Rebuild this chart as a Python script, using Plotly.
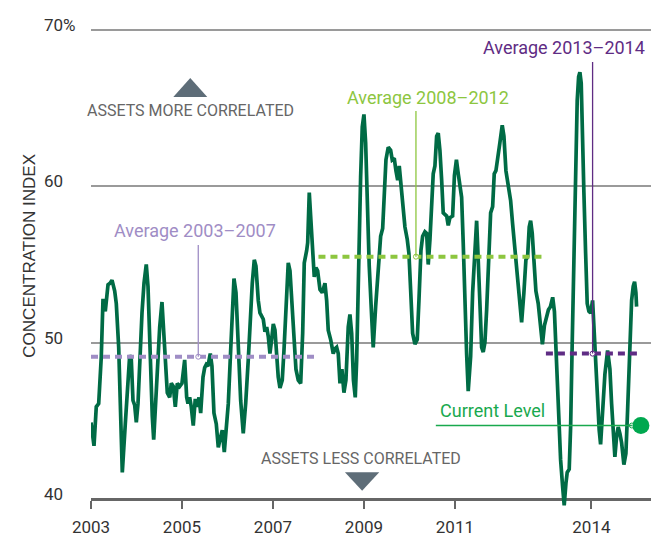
import plotly.graph_objects as go

# ---------------- data ----------------
t = [2003.000, 2003.066, 2003.116, 2003.169, 2003.226, 2003.264, 2003.314, 2003.374, 2003.418, 2003.462,
     2003.521, 2003.556, 2003.609, 2003.666, 2003.688, 2003.754, 2003.813, 2003.851, 2003.886, 2003.923,
     2003.960, 2003.996, 2004.033, 2004.070, 2004.121, 2004.165, 2004.215, 2004.253, 2004.290, 2004.347,
     2004.378, 2004.435, 2004.473, 2004.510, 2004.560, 2004.604, 2004.642, 2004.677, 2004.730, 2004.765,
     2004.809, 2004.853, 2004.897, 2004.949, 2005.000, 2005.059, 2005.103, 2005.132, 2005.169, 2005.204,
     2005.248, 2005.292, 2005.336, 2005.374, 2005.411, 2005.462, 2005.499, 2005.534, 2005.571, 2005.622,
     2005.659, 2005.703, 2005.754, 2005.798, 2005.835, 2005.886, 2005.930, 2005.967, 2006.018, 2006.070,
     2006.114, 2006.143, 2006.187, 2006.237, 2006.290, 2006.347, 2006.400, 2006.457, 2006.495, 2006.545,
     2006.589, 2006.626, 2006.677, 2006.714, 2006.752, 2006.787, 2006.824, 2006.862, 2006.897, 2006.934,
     2006.971, 2007.007, 2007.044, 2007.081, 2007.116, 2007.154, 2007.204, 2007.242, 2007.286, 2007.336,
     2007.374, 2007.411, 2007.462, 2007.505, 2007.556, 2007.609, 2007.653, 2007.688, 2007.741, 2007.763,
     2007.798, 2007.835, 2007.873, 2007.908, 2007.945, 2007.982, 2008.033, 2008.084, 2008.143, 2008.180,
     2008.215, 2008.268, 2008.325, 2008.363, 2008.400, 2008.435, 2008.473, 2008.516, 2008.560, 2008.604,
     2008.655, 2008.692, 2008.730, 2008.769, 2008.809, 2008.840, 2008.875, 2008.927, 2008.963, 2009.000,
     2009.037, 2009.073, 2009.116, 2009.169, 2009.204, 2009.257, 2009.314, 2009.367, 2009.411, 2009.446,
     2009.484, 2009.534, 2009.587, 2009.622, 2009.666, 2009.703, 2009.741, 2009.776, 2009.813, 2009.851,
     2009.901, 2009.952, 2009.989, 2010.026, 2010.070, 2010.121, 2010.171, 2010.209, 2010.253, 2010.290,
     2010.341, 2010.378, 2010.413, 2010.451, 2010.488, 2010.523, 2010.560, 2010.598, 2010.633, 2010.670,
     2010.708, 2010.743, 2010.818, 2010.853, 2010.890, 2010.949, 2010.989, 2011.033, 2011.073, 2011.110,
     2011.147, 2011.182, 2011.220, 2011.257, 2011.292, 2011.345, 2011.389, 2011.440, 2011.477, 2011.512,
     2011.549, 2011.587, 2011.622, 2011.659, 2011.697, 2011.754, 2011.785, 2011.829, 2011.864, 2011.901,
     2011.952, 2011.989, 2012.040, 2012.077, 2012.121, 2012.171, 2012.224, 2012.268, 2012.319, 2012.369,
     2012.413, 2012.466, 2012.516, 2012.560, 2012.598, 2012.633, 2012.664, 2012.699, 2012.736, 2012.780,
     2012.831, 2012.868, 2012.923, 2012.967, 2013.011, 2013.055, 2013.099, 2013.149, 2013.187, 2013.235,
     2013.270, 2013.323, 2013.367, 2013.402, 2013.440, 2013.468, 2013.512, 2013.543, 2013.578, 2013.615,
     2013.653, 2013.688, 2013.719, 2013.747, 2013.776, 2013.807, 2013.835, 2013.873, 2013.908, 2013.945,
     2013.982, 2014.026, 2014.062, 2014.099, 2014.136, 2014.171, 2014.202, 2014.246, 2014.297, 2014.356,
     2014.407, 2014.444, 2014.479, 2014.516, 2014.554, 2014.589, 2014.626, 2014.664, 2014.714, 2014.758,
     2014.796, 2014.831, 2014.884, 2014.919, 2014.949, 2014.978, 2014.993]

index = [44.9, 43.4, 45.9, 46.1, 49.1, 52.8, 52.0, 53.7, 53.8, 54.0,
         53.3, 52.5, 49.7, 44.4, 41.7, 44.8, 47.4, 49.2, 48.9, 46.3,
         46.0, 44.9, 46.1, 49.1, 51.9, 53.8, 55.0, 53.6, 49.5, 45.3,
         43.8, 46.8, 49.5, 51.0, 52.6, 50.4, 48.9, 46.8, 46.5, 47.4,
         47.2, 45.9, 47.4, 47.2, 47.4, 48.9, 46.5, 46.1, 46.5, 45.9,
         44.7, 46.4, 45.9, 46.5, 45.5, 47.8, 48.4, 48.6, 48.5, 49.3,
         48.5, 45.5, 44.8, 43.3, 43.8, 44.4, 43.0, 44.2, 46.1, 49.5,
         52.7, 54.1, 53.2, 49.5, 46.3, 44.2, 46.1, 48.9, 51.2, 53.8,
         55.3, 54.9, 52.7, 51.9, 51.7, 51.5, 50.7, 51.0, 50.4, 49.3,
         50.2, 51.2, 50.8, 49.3, 47.8, 47.1, 47.6, 49.5, 52.7, 55.1,
         54.6, 52.7, 50.0, 48.3, 47.6, 47.4, 50.6, 55.1, 55.9, 56.4,
         59.6, 58.1, 55.9, 54.2, 54.8, 54.6, 53.4, 53.2, 53.8, 52.7,
         50.8, 50.2, 49.3, 49.6, 49.7, 49.3, 47.4, 48.3, 46.8, 47.6,
         51.0, 51.8, 50.6, 47.6, 46.5, 48.9, 54.2, 60.6, 63.8, 64.6,
         62.8, 58.5, 54.9, 51.7, 49.7, 52.3, 54.9, 56.8, 57.3, 59.8,
         61.7, 62.5, 62.3, 61.7, 61.8, 61.0, 60.4, 61.3, 60.2, 58.7,
         57.4, 56.6, 55.7, 53.4, 50.6, 49.9, 50.2, 52.7, 55.9, 56.8,
         57.1, 57.0, 55.0, 56.6, 58.5, 60.8, 61.3, 63.2, 63.4, 62.3,
         60.4, 58.3, 58.1, 57.5, 58.0, 58.1, 60.7, 61.7, 60.8, 60.1,
         59.3, 56.4, 52.1, 49.3, 46.9, 49.1, 53.2, 56.4, 57.8, 55.3,
         52.1, 49.7, 49.4, 50.0, 52.1, 56.4, 58.3, 58.7, 60.8, 61.0,
         61.9, 62.8, 63.9, 63.2, 61.0, 60.0, 59.1, 57.6, 55.9, 54.4,
         53.2, 51.3, 53.2, 55.3, 55.5, 57.4, 57.8, 57.0, 55.3, 53.3,
         52.5, 51.2, 49.9, 51.1, 51.7, 52.1, 52.3, 52.9, 52.0, 48.9,
         45.7, 42.5, 40.8, 39.6, 41.0, 41.7, 41.9, 44.6, 50.0, 55.3,
         60.6, 65.5, 67.0, 67.3, 66.6, 63.8, 59.6, 55.7, 52.5, 52.0,
         51.9, 52.7, 50.6, 48.5, 46.1, 44.4, 43.5, 45.9, 48.0, 49.5,
         48.3, 46.1, 44.2, 42.7, 44.0, 44.6, 44.2, 43.6, 42.2, 42.9,
         45.7, 48.9, 52.7, 53.6, 53.9, 53.2, 52.3]

avg_labels = ["Average 2003\u20132007", "Average 2008\u20132012", "Average 2013\u20132014"]
avg_start = [2003.0, 2008.0, 2013.0]
avg_end = [2008.0, 2013.0, 2015.0]
avg_value = [49.1, 55.5, 49.3]
avg_colors = ["#9F8DC5", "#8DC63F", "#5F2C84"]

current_level = 44.7

x_tickvals = [2003, 2005, 2007, 2009, 2011, 2014]
x_ticktext = ["2003", "2005", "2007", "2009", "2011", "2014"]
y_gridvals = [50, 60, 70]
y_ticklabels = {70: "70%", 60: "60", 50: "50", 40: "40"}

# ---------------- layout geometry ----------------
Y_MIN, Y_MAX = 39.168, 70.128
X_MIN, X_MAX = 2003.0, 2015.31
axis_pos = (40 - Y_MIN) / (Y_MAX - Y_MIN)

LINE_GREEN = "#006B45"
CUR_GREEN = "#19A94E"
FONT = "Roboto"

fig = go.Figure()

# main series
fig.add_trace(go.Scatter(x=t, y=index, mode="lines",
                         line=dict(color=LINE_GREEN, width=3.7),
                         hoverinfo="skip", showlegend=False))

# average dashed lines
for s, e, v, c in zip(avg_start, avg_end, avg_value, avg_colors):
    fig.add_trace(go.Scatter(x=[s, e], y=[v, v], mode="lines",
                             line=dict(color=c, width=4, dash="7px,5px"),
                             hoverinfo="skip", showlegend=False))

# leader lines (text anchor positions, leader x positions)
label_x = [2005.286, 2010.407, 2013.396]
label_y = [57.2, 65.7, 68.9]
leader_x = [2005.358, 2010.143, 2014.026]
leader_top = [56.25, 64.82, 67.95]

for lx, ly, tx, txy, lbl, v, c in zip(leader_x, leader_top, label_x, label_y,
                                      avg_labels, avg_value, avg_colors):
    fig.add_shape(type="line", xref="x", yref="y", x0=lx, x1=lx, y0=ly, y1=v,
                  line=dict(color=c, width=1.3))
    fig.add_trace(go.Scatter(x=[lx], y=[v], mode="markers",
                             marker=dict(symbol="circle", size=5, color="white",
                                         line=dict(color=c, width=1)),
                             hoverinfo="skip", showlegend=False))
    fig.add_annotation(x=tx, y=txy, xref="x", yref="y", text=lbl, showarrow=False,
                       font=dict(family=FONT, size=18, color=c),
                       xanchor="center", yanchor="middle")

# current level
fig.add_shape(type="line", xref="x", yref="y", x0=2010.58, x1=2014.89,
              y0=current_level, y1=current_level, line=dict(color=CUR_GREEN, width=1.3))
fig.add_trace(go.Scatter(x=[2014.89], y=[current_level], mode="markers",
                         marker=dict(symbol="circle", size=5, color="white",
                                     line=dict(color=CUR_GREEN, width=1)),
                         hoverinfo="skip", showlegend=False))
fig.add_trace(go.Scatter(x=[2015.088], y=[current_level], mode="markers",
                         marker=dict(symbol="circle", size=17, color="#00A84F"),
                         cliponaxis=False, hoverinfo="skip", showlegend=False))
fig.add_annotation(x=2011.824, y=45.63, xref="x", yref="y", text="Current Level",
                   showarrow=False, font=dict(family=FONT, size=18, color=CUR_GREEN),
                   xanchor="center", yanchor="middle")

# correlation hints
TRI = "#5E6D78"
fig.add_shape(type="path", xref="x", yref="y",
              path="M 2004.809 65.715 L 2005.556 65.715 L 2005.182 66.93 Z",
              fillcolor=TRI, line=dict(width=0))
fig.add_annotation(x=2005.198, y=64.82, xref="x", yref="y", text="ASSETS MORE CORRELATED",
                   showarrow=False, font=dict(family=FONT, size=16, color="#666666"))
fig.add_shape(type="path", xref="x", yref="y",
              path="M 2008.582 41.71 L 2009.336 41.71 L 2008.96 40.53 Z",
              fillcolor=TRI, line=dict(width=0))
fig.add_annotation(x=2008.945, y=42.59, xref="x", yref="y", text="ASSETS LESS CORRELATED",
                   showarrow=False, font=dict(family=FONT, size=16, color="#666666"))

# y tick labels (left aligned)
for v, txt in y_ticklabels.items():
    fig.add_annotation(x=-0.0875, y=v, xref="paper", yref="y", text=txt, showarrow=False,
                       xanchor="left", yanchor="middle", yshift=5,
                       font=dict(family=FONT, size=17, color="#333333"))

# y axis title
fig.add_annotation(x=-0.130, y=0.529, xref="paper", yref="paper",
                   text="CONCENTRATION INDEX", textangle=-90, showarrow=False,
                   font=dict(family="Liberation Sans", size=17, color="#333333"))

fig.update_layout(
    width=651, height=536,
    margin=dict(l=91, r=0, t=28, b=24, autoexpand=False),
    paper_bgcolor="white", plot_bgcolor="white",
    showlegend=False,
    xaxis=dict(range=[X_MIN, X_MAX], tickvals=x_tickvals, ticktext=x_ticktext,
               anchor="free", position=axis_pos, automargin=False,
               showline=True, linecolor="#666666", linewidth=2.5,
               ticks="outside", ticklen=8, tickwidth=1.5, tickcolor="#666666",
               showgrid=False, zeroline=False, layer="below traces",
               ticklabelstandoff=4,
               tickfont=dict(family=FONT, size=17, color="#333333")),
    yaxis=dict(range=[Y_MIN, Y_MAX], tickvals=y_gridvals, showticklabels=False,
               showgrid=True, gridcolor="#9A9A9A", gridwidth=1.5, automargin=False,
               zeroline=False, showline=False, ticks=""),
)

fig.write_html("out.html", config={"displayModeBar": False},
               post_script="document.body.style.margin='0px';document.body.style.padding='0px';")
